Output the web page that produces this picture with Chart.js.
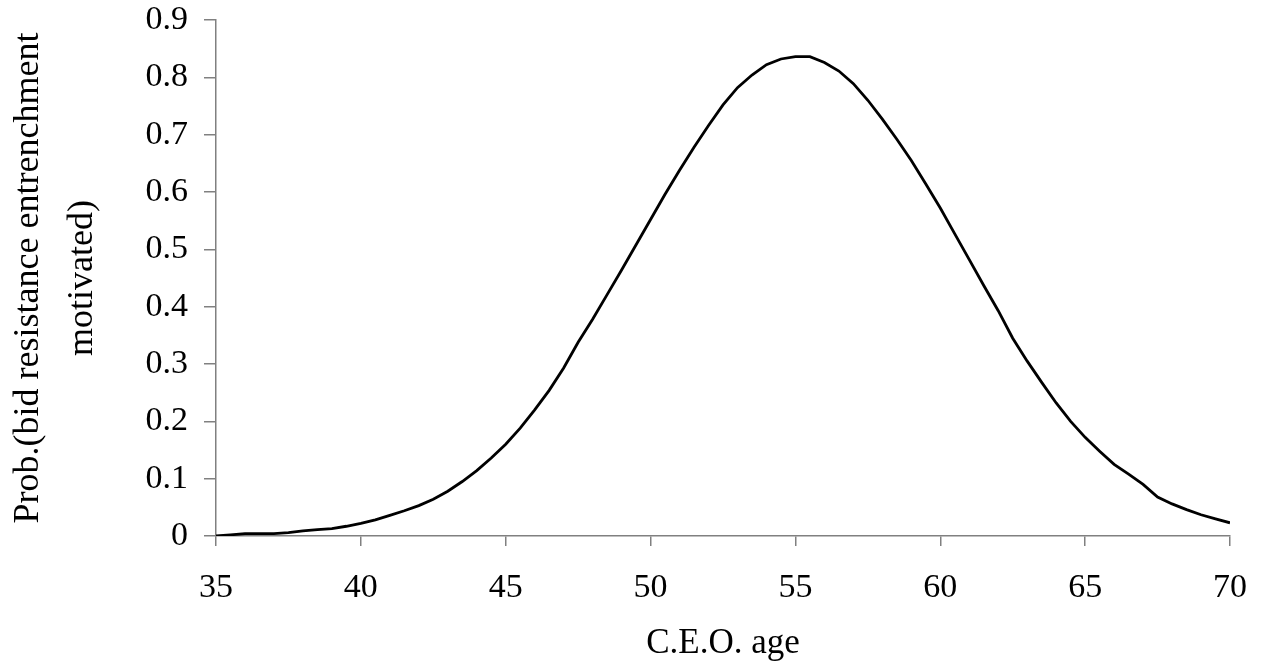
<!DOCTYPE html>
<html>
<head>
<meta charset="utf-8">
<script src="https://cdn.jsdelivr.net/npm/chart.js@4/dist/chart.umd.min.js"></script>
<style>
  html, body { margin: 0; padding: 0; background: #fff; }
  #wrap { width: 1262px; height: 669px; }
</style>
</head>
<body>
<div id="wrap"><canvas id="ageChart"></canvas></div>
<script>
// CEO age (half-year steps) and probability
const ages = [35, 35.5, 36, 36.5, 37, 37.5, 38, 38.5, 39, 39.5, 40, 40.5, 41, 41.5, 42, 42.5, 43, 43.5, 44, 44.5,
    45, 45.5, 46, 46.5, 47, 47.5, 48, 48.5, 49, 49.5, 50, 50.5, 51, 51.5, 52, 52.5, 53, 53.5, 54, 54.5,
    55, 55.5, 56, 56.5, 57, 57.5, 58, 58.5, 59, 59.5, 60, 60.5, 61, 61.5, 62, 62.5, 63, 63.5, 64, 64.5,
    65, 65.5, 66, 66.5, 67, 67.5, 68, 68.5, 69, 69.5, 70];
const probs = [0.000, 0.002, 0.004, 0.004, 0.004, 0.006, 0.009, 0.011, 0.013, 0.017, 0.022, 0.028, 0.036, 0.044, 0.053, 0.064, 0.078, 0.095, 0.114, 0.136,
    0.160, 0.188, 0.220, 0.254, 0.293, 0.338, 0.378, 0.421, 0.464, 0.508, 0.552, 0.596, 0.638, 0.678, 0.716, 0.752, 0.782, 0.804, 0.822, 0.832,
    0.836, 0.836, 0.826, 0.811, 0.789, 0.760, 0.727, 0.692, 0.655, 0.614, 0.572, 0.527, 0.482, 0.437, 0.393, 0.345, 0.305, 0.268, 0.232, 0.200,
    0.172, 0.148, 0.125, 0.108, 0.090, 0.068, 0.056, 0.046, 0.037, 0.030, 0.023];
const xTitle = 'C.E.O. age';
const yTitle = ['Prob.(bid resistance entrenchment', 'motivated)'];

const serif = '"Liberation Serif", "Times New Roman", serif';
const axisGray = '#808080';

new Chart(document.getElementById('ageChart').getContext('2d'), {
    type: 'line',
    data: {
        datasets: [{
            data: ages.map((a, i) => ({x: a, y: probs[i]})),
            borderColor: '#000',
            borderWidth: 2.8,
            pointRadius: 0,
            tension: 0,
            fill: false
        }]
    },
    options: {
        responsive: true,
        maintainAspectRatio: false,
        animation: false,
        layout: {padding: {top: 20, right: 32, left: 0, bottom: 0}},
        plugins: {
            legend: {display: false},
            tooltip: {enabled: false}
        },
        scales: {
            x: {
                type: 'linear',
                min: 35,
                max: 70,
                ticks: {stepSize: 5, color: '#000', padding: 22, font: {family: serif, size: 34}},
                grid: {drawOnChartArea: false, tickLength: 10, color: axisGray, lineWidth: 1.5},
                border: {color: axisGray, width: 1.5},
                title: {display: true, text: xTitle, color: '#000', padding: {top: 12}, font: {family: serif, size: 35}},
                afterFit: (s) => { s.height = 133; s.paddingRight = 0; s.paddingLeft = 0; }
            },
            y: {
                min: 0,
                max: 0.9,
                ticks: {stepSize: 0.1, color: '#000', padding: 16, font: {family: serif, size: 34}},
                grid: {drawOnChartArea: false, tickLength: 12, color: axisGray, lineWidth: 1.5},
                border: {color: axisGray, width: 1.5},
                title: {display: true, text: yTitle, color: '#000', padding: {top: 2, bottom: 0}, font: {family: serif, size: 36, lineHeight: 1.5}},
                afterFit: (s) => { s.width = 216; s.paddingTop = 0; s.paddingBottom = 0; }
            }
        }
    }
});
</script>
</body>
</html>
